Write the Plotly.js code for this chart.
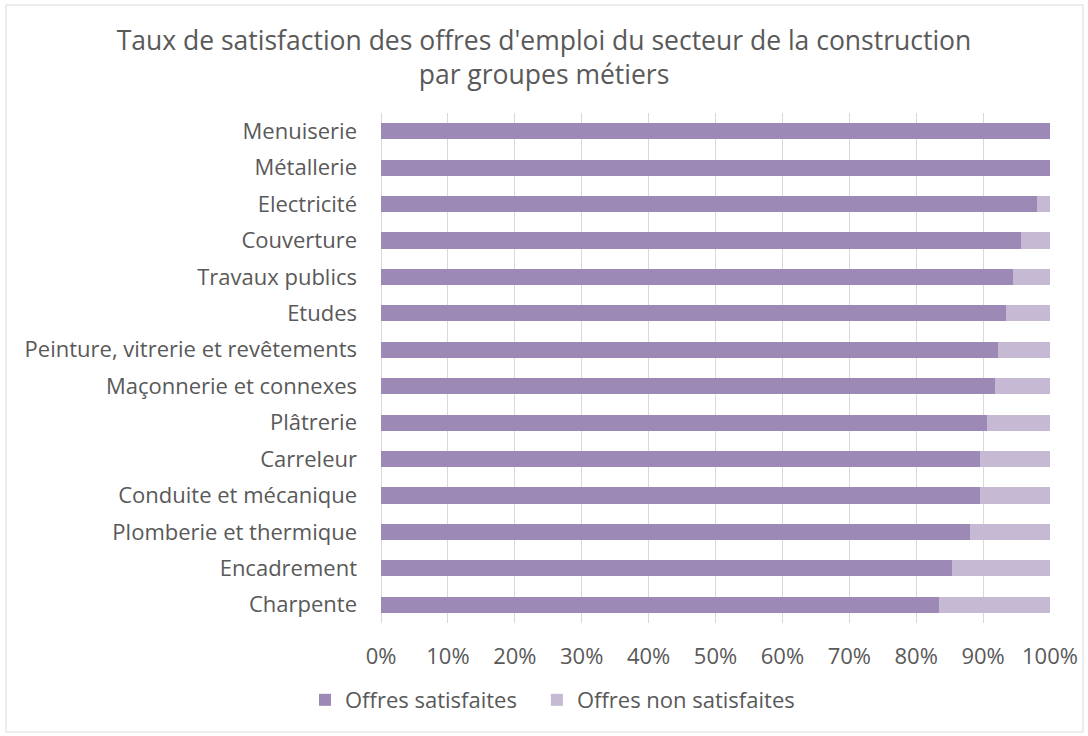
<!DOCTYPE html>
<html><head><meta charset="utf-8">
<script src="https://cdn.plot.ly/plotly-3.0.1.min.js"></script>
<style>html,body{margin:0;padding:0;background:#fff;}#chart{width:1088px;height:736px;}</style>
</head><body><div id="chart"></div>
<script>
const categories = ["Menuiserie","Métallerie","Electricité","Couverture","Travaux publics","Etudes","Peinture, vitrerie et revêtements","Maçonnerie et connexes","Plâtrerie","Carreleur","Conduite et mécanique","Plomberie et thermique","Encadrement","Charpente"];
const satisfaites = [100,100,98.0,95.6,94.5,93.4,92.3,91.8,90.6,89.6,89.5,88.1,85.4,83.4];
const nonSatisfaites = satisfaites.map(v => +(100 - v).toFixed(1));
const tickVals = [0,10,20,30,40,50,60,70,80,90,100];
const tickText = ["0%","10%","20%","30%","40%","50%","60%","70%","80%","90%","100%"];

const font = "'Open Sans', 'Noto Sans', sans-serif";
const traces = [
  {type:'bar', orientation:'h', name:'Offres satisfaites', y:categories, x:satisfaites, marker:{color:'#9D89B6'}, hoverinfo:'x+y', legend:'legend'},
  {type:'bar', orientation:'h', name:'Offres non satisfaites', y:categories, x:nonSatisfaites, marker:{color:'#C5B9D4'}, hoverinfo:'x+y', legend:'legend2'}
];
const legFont = {size:22, color:'#595959'};
const layout = {
  width:1088, height:736,
  margin:{l:381, r:38, t:113, b:113},
  barmode:'stack', bargap:0.56,
  paper_bgcolor:'#fff', plot_bgcolor:'#fff',
  font:{family:font, color:'#595959', size:21},
  title:{text:"Taux de satisfaction des offres d'emploi du secteur de la construction<br>par groupes métiers", font:{family:font, size:26.5, color:'#595959'}, x:0.5, xanchor:'center', y:0.932, yanchor:'middle'},
  xaxis:{range:[0,100], tickvals:tickVals, ticktext:tickText, showgrid:true, gridcolor:'#D9D9D9', gridwidth:1, zeroline:true, zerolinecolor:'#D9D9D9', showline:false, ticks:'', ticklabelstandoff:18, tickfont:{size:22, color:'#595959'}, fixedrange:true},
  yaxis:{type:'category', categoryorder:'array', categoryarray:categories, autorange:'reversed', showgrid:false, zeroline:false, ticks:'', ticklabelstandoff:23, tickfont:{size:22, color:'#595959'}, fixedrange:true},
  showlegend:true,
  legend:{orientation:'h', x:-0.1136, xanchor:'left', y:-0.151, yanchor:'middle', font:legFont, itemwidth:30},
  legend2:{orientation:'h', x:0.233, xanchor:'left', y:-0.151, yanchor:'middle', font:legFont, itemwidth:30},
  shapes:[{type:'rect', xref:'paper', yref:'paper', x0:(6-381)/669, x1:(1083-381)/669, y0:(623-732)/510, y1:(623-5)/510, line:{color:'#D9D9D9', width:1}, fillcolor:'rgba(0,0,0,0)', layer:'below'}]
};
Plotly.newPlot('chart', traces, layout, {displayModeBar:false, staticPlot:true});
</script></body></html>
